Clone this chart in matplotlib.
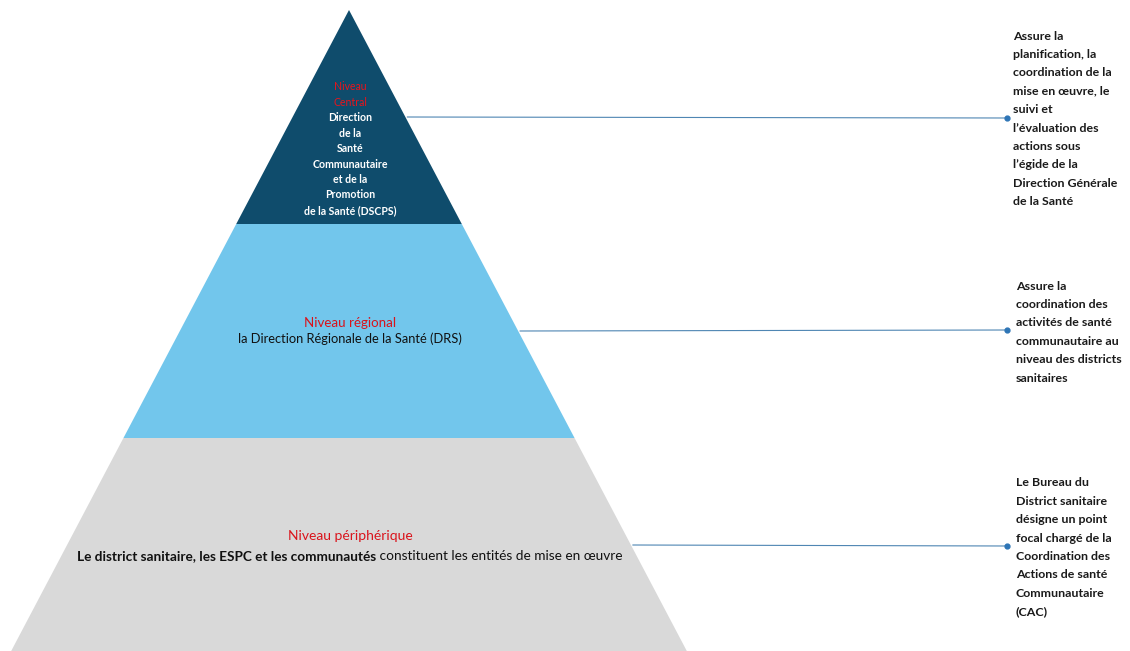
import matplotlib.pyplot as plt
from matplotlib.patches import Polygon

plt.rcParams['font.family'] = ['Lato', 'DejaVu Sans']

# pyramid levels, top to bottom
levels = ['Central', 'Régional', 'Périphérique']
colors = ['#0f4c6c', '#72c6ec', '#d9d9d9']
apex = (349, 10)
band_bottoms = [224, 438, 651]
half_slope = 0.527

top_lines = ['Niveau', 'Central', 'Direction', 'de la', 'Santé', 'Communautaire',
             'et de la', 'Promotion', 'de la Santé (DSCPS)']
top_red = 2
mid_lines = ['Niveau régional', 'la Direction Régionale de la Santé (DRS)']
bot_title = 'Niveau périphérique'
bot_bold = 'Le district sanitaire, les ESPC et les communautés'
bot_regular = ' constituent les entités de mise en œuvre'

desc_central = ['Assure la', 'planification, la', 'coordination de la', 'mise en œuvre, le',
                'suivi et', 'l’évaluation des', 'actions sous', 'l’égide de la',
                'Direction Générale', 'de la Santé']
desc_regional = ['Assure la', 'coordination des', 'activités de santé',
                 'communautaire au', 'niveau des districts', 'sanitaires']
desc_periph = ['Le Bureau du', 'District sanitaire', 'désigne un point',
               'focal chargé de la', 'Coordination des', 'Actions de santé',
               'Communautaire', '(CAC)']

fig = plt.figure(figsize=(11.3, 6.51), dpi=100)
ax = fig.add_axes([0, 0, 1, 1])
ax.set_xlim(0, 1130)
ax.set_ylim(651, 0)
ax.axis('off')

prev = apex[1]
for lvl, c, yb in zip(levels, colors, band_bottoms):
    ht = (prev - apex[1]) * half_slope
    hb = (yb - apex[1]) * half_slope
    pts = [(apex[0] - ht, prev), (apex[0] + ht, prev), (apex[0] + hb, yb), (apex[0] - hb, yb)]
    ax.add_patch(Polygon(pts, closed=True, color=c, lw=0))
    prev = yb

# top band text
y = 87
for i, t in enumerate(top_lines):
    if i < top_red:
        ax.text(350, y, t, color='#e8141c', fontsize=7.6, ha='center', va='center')
    else:
        ax.text(350, y, t, color='white', fontsize=7.6, fontweight='bold', ha='center', va='center')
    y += 15.4

# middle band text
ax.text(350, 323, mid_lines[0], color='#d9131b', fontsize=9.6, ha='center', va='center')
ax.text(350, 339, mid_lines[1], color='#111111', fontsize=9.3, ha='center', va='center')

# bottom band text
ax.text(350, 536, bot_title, color='#d9131b', fontsize=10, ha='center', va='center')
r = fig.canvas.get_renderer()
tb = ax.text(0, 556, bot_bold, color='#111111', fontsize=9.8, fontweight='bold', ha='left', va='center')
tr = ax.text(0, 556, bot_regular, color='#111111', fontsize=9.8, ha='left', va='center')
wb = tb.get_window_extent(r).width
wr = tr.get_window_extent(r).width
x0 = 350 - (wb + wr) / 2
tb.set_x(x0)
tr.set_x(x0 + wb)

# connectors and descriptions
conn = [(117, 118, 36, 1013, desc_central), (331, 330, 286, 1016, desc_regional),
        (545, 546, 483, 1016, desc_periph)]
for y0, y1, ytop, xt, lines in conn:
    xs = apex[0] + (y0 - apex[1]) * half_slope + 2
    ax.plot([xs, 1007], [y0, y1], color='#4f86b3', lw=0.8)
    ax.plot(1007, y1, 'o', color='#2e75b6', ms=3.5)
    for k, t in enumerate(lines):
        ax.text(xt, ytop + k * 18.4, t, color='#1a1a1a', fontsize=8.9, fontweight='bold',
                ha='left', va='center')

fig.savefig('out.png', dpi=100)
